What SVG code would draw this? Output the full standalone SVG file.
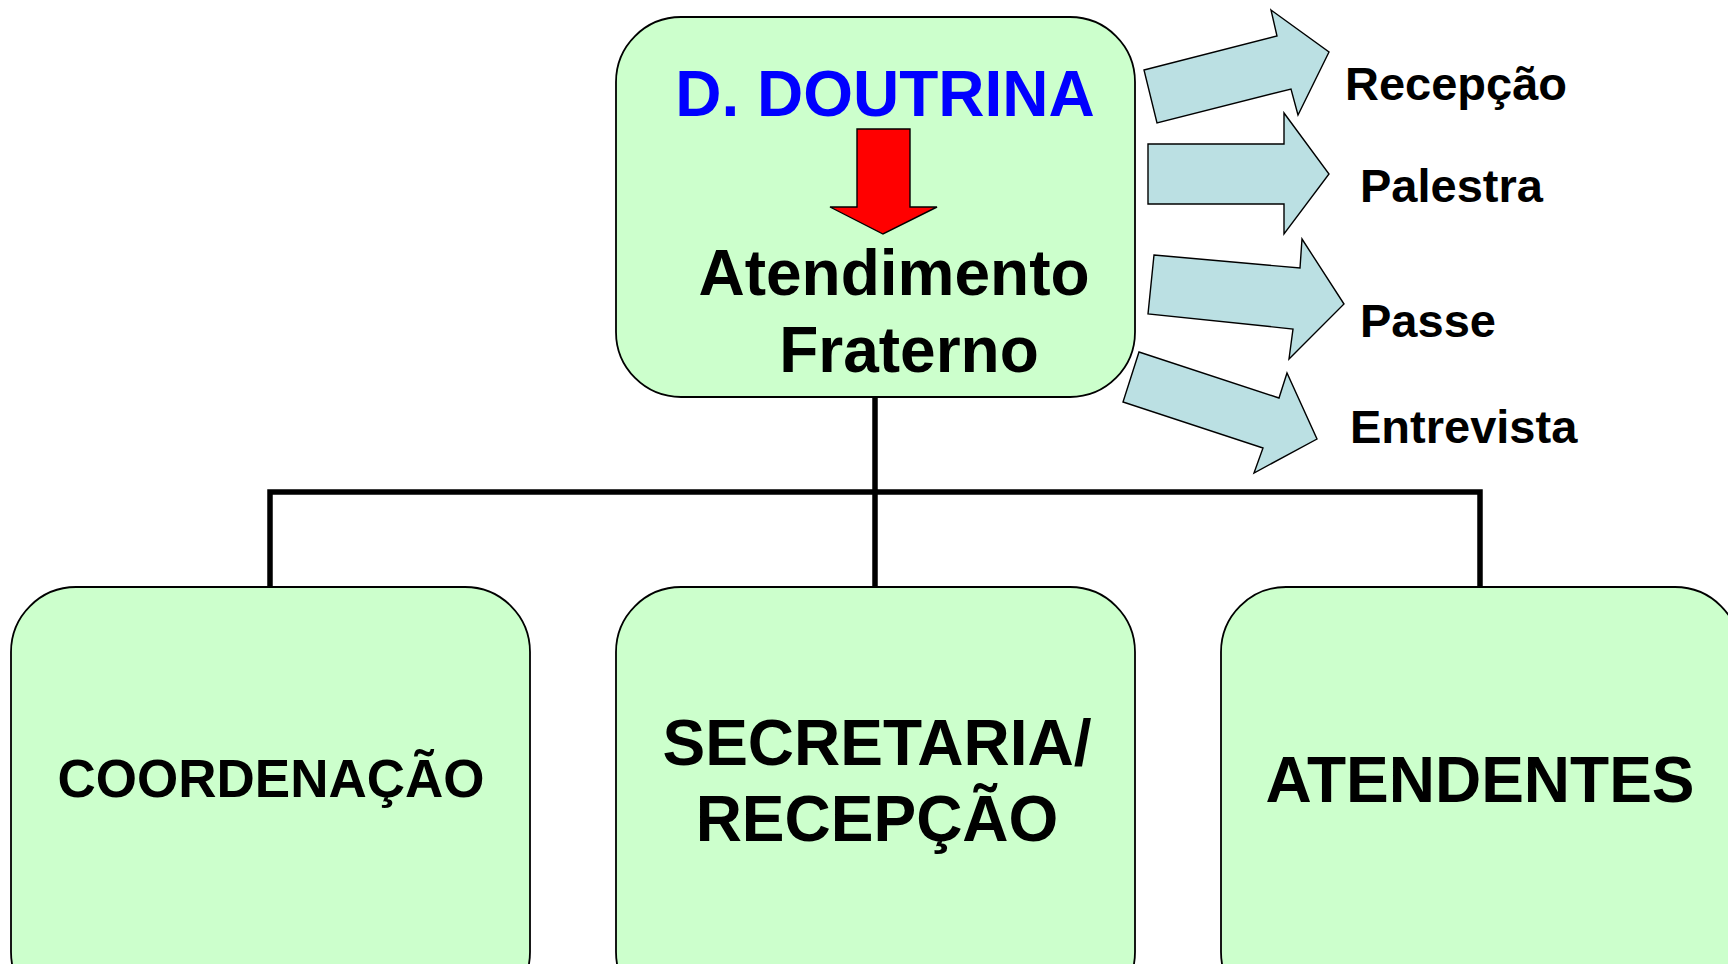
<svg xmlns="http://www.w3.org/2000/svg" width="1728" height="964" viewBox="0 0 1728 964">
<style>
.box{fill:#CCFFCC;stroke:#000;stroke-width:1.8}
.blk{fill:#BBE0E3;stroke:#000;stroke-width:1.4;stroke-linejoin:miter}
.t{font-family:"Liberation Sans",Arial,sans-serif;font-weight:bold;fill:#000}
.c{text-anchor:middle}
.conn{fill:none;stroke:#000;stroke-width:5.5;stroke-linejoin:miter}
</style>
<rect width="1728" height="964" fill="#fff"/>
<g id="connectors">
<path class="conn" d="M875 397 V587"/>
<path class="conn" d="M270 587 V492 H1480 V587"/>
</g>
<g id="top">
<rect class="box" x="616" y="17" width="519" height="380" rx="65" ry="65"/>
<text class="t c" x="885" y="116" font-size="64" style="fill:#0000FF">D. DOUTRINA</text>
<path d="M857 129 H910 V207 H937 L883 234 L830 207 H857 Z" fill="#FF0000" stroke="#000" stroke-width="1.4"/>
<text class="t c" x="894" y="295" font-size="64">Atendimento</text>
<text class="t c" x="909" y="372" font-size="64">Fraterno</text>
</g>
<g id="arrow-recepcao">
<path class="blk" d="M1144 70 L1277 36 L1271 10 L1329 52 L1298 115 L1291 89 L1157 123 Z"/>
<text class="t" x="1345" y="100" font-size="47">Recepção</text>
</g>
<g id="arrow-palestra">
<path class="blk" d="M1148 144 H1284 V113 L1329 174 L1284 234 V204 H1148 Z"/>
<text class="t" x="1360" y="202" font-size="47">Palestra</text>
</g>
<g id="arrow-passe">
<path class="blk" d="M1154 255 L1300 268 L1302 239 L1344 304 L1289 359 L1293 329 L1148 314 Z"/>
<text class="t" x="1360" y="337" font-size="47">Passe</text>
</g>
<g id="arrow-entrevista">
<path class="blk" d="M1139 352 L1279 398 L1287 373 L1317 439 L1254 473 L1263 448 L1123 402 Z"/>
<text class="t" x="1350" y="443" font-size="47">Entrevista</text>
</g>
<g id="coordenacao">
<rect class="box" x="11" y="587" width="519" height="430" rx="65" ry="65"/>
<text class="t c" x="271" y="797" font-size="53">COORDENAÇÃO</text>
</g>
<g id="secretaria">
<rect class="box" x="616" y="587" width="519" height="430" rx="65" ry="65"/>
<text class="t c" x="877" y="765" font-size="64">SECRETARIA/</text>
<text class="t c" x="877" y="841" font-size="64">RECEPÇÃO</text>
</g>
<g id="atendentes">
<rect class="box" x="1221" y="587" width="519" height="430" rx="65" ry="65"/>
<text class="t c" x="1480" y="802" font-size="64">ATENDENTES</text>
</g>
</svg>
